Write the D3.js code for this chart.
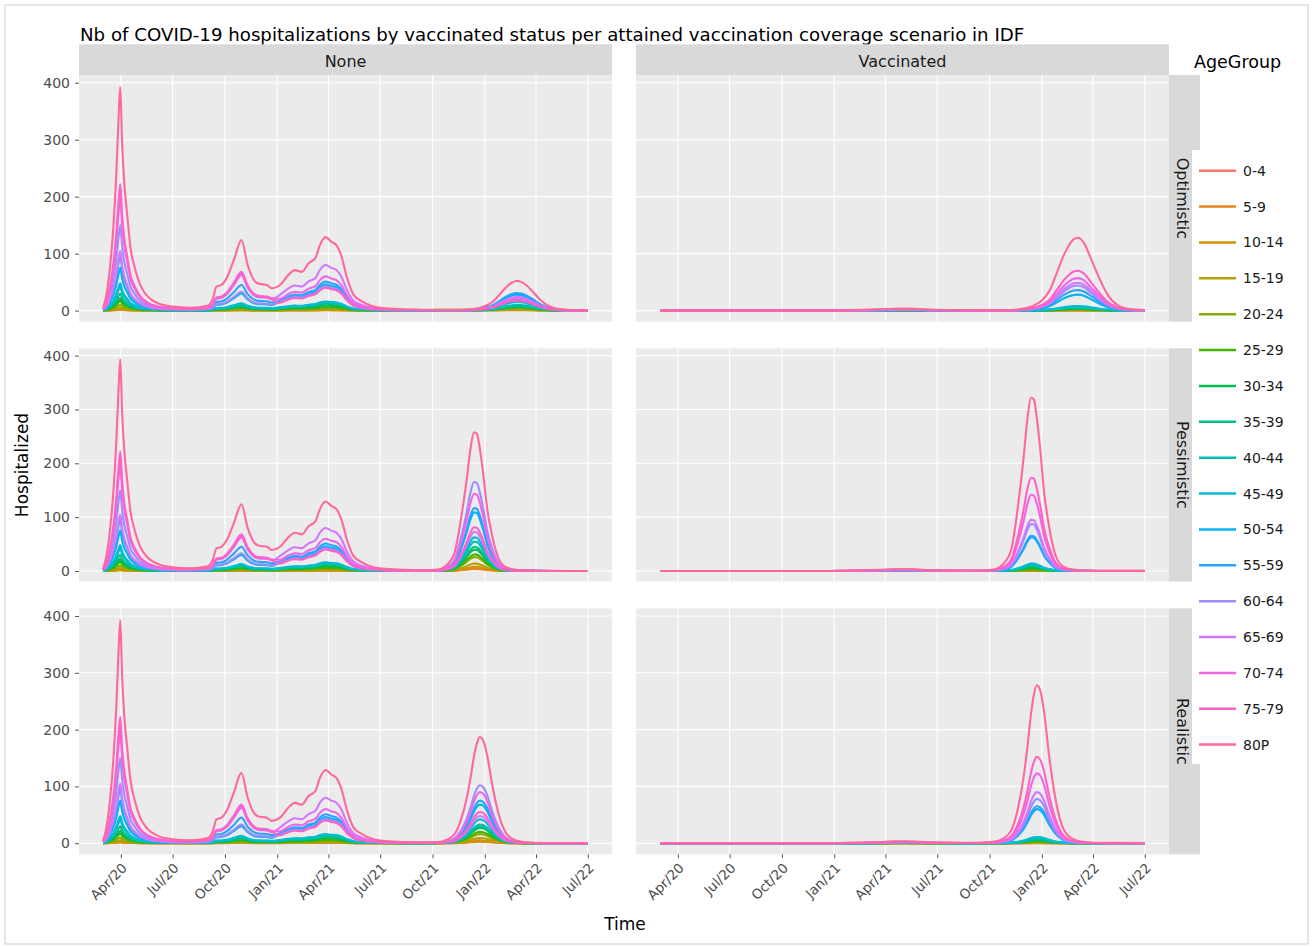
<!DOCTYPE html>
<html><head><meta charset="utf-8">
<script src="https://cdn.jsdelivr.net/npm/d3@7"></script>
<style>body{margin:0;background:#fff}svg{display:block;font-family:"DejaVu Sans",Verdana,sans-serif}</style>
</head><body><svg id="c" width="1313" height="947"></svg>
<script>
// ---------------- DATA ----------------
const ageGroups = ["0-4","5-9","10-14","15-19","20-24","25-29","30-34","35-39","40-44","45-49","50-54","55-59","60-64","65-69","70-74","75-79","80P"];
const statuses = ["None","Vaccinated"];
const scenarios = ["Optimistic","Pessimistic","Realistic"];
const xTickDates = ["2020-04-01","2020-07-01","2020-10-01","2021-01-01","2021-04-01","2021-07-01","2021-10-01","2022-01-01","2022-04-01","2022-07-01"];
const yTicks = [0,100,200,300,400];

// History of unvaccinated hospitalizations (same in all scenarios)
const datesHistory = ["2020-03-01","2020-03-07","2020-03-13","2020-03-19","2020-03-24","2020-03-28","2020-03-31","2020-04-03","2020-04-07","2020-04-12","2020-04-18","2020-04-25","2020-05-05","2020-05-18","2020-06-05","2020-07-01","2020-08-01",
 "2020-09-01","2020-09-10","2020-09-16","2020-09-25","2020-10-04","2020-10-17","2020-10-30","2020-11-10","2020-11-20","2020-11-29","2020-12-14","2020-12-22",
 "2021-01-06","2021-01-20","2021-02-01","2021-02-13","2021-02-25","2021-03-09","2021-03-17","2021-03-27","2021-04-06","2021-04-15","2021-04-24","2021-05-03","2021-05-15","2021-05-30","2021-06-19","2021-07-10","2021-08-15","2021-09-15"];
const noneHistory = [
 [0.1,0.3,0.8,1.5,2.4,3.5,4,3.1,2.3,1.7,1.1,0.8,0.5,0.3,0.1,0.1,0.1, 0.1,0.3,0.5,0.5,0.7,1.1,1.5,1,0.7,0.6,0.5,0.5, 0.5,0.7,0.8,0.8,1,1.1,1.3,1.5,1.4,1.3,1.1,0.7,0.3,0.2,0.1,0,0,0],
 [0,0.1,0.3,0.6,0.9,1.3,1.5,1.1,0.9,0.6,0.4,0.3,0.2,0.1,0,0,0, 0,0.1,0.2,0.2,0.2,0.4,0.5,0.3,0.2,0.2,0.2,0.2, 0.2,0.3,0.3,0.3,0.4,0.4,0.5,0.6,0.6,0.5,0.4,0.3,0.1,0.1,0,0,0,0],
 [0,0.2,0.4,0.8,1.2,1.7,2,1.5,1.1,0.9,0.6,0.4,0.2,0.1,0.1,0,0, 0.1,0.1,0.3,0.3,0.4,0.6,0.8,0.5,0.4,0.3,0.3,0.3, 0.3,0.5,0.6,0.5,0.6,0.7,0.9,1,0.9,0.9,0.7,0.5,0.2,0.1,0.1,0,0,0],
 [0.1,0.4,1,1.9,3,4.3,5,3.8,2.9,2.2,1.4,1,0.6,0.3,0.2,0.1,0.1, 0.1,0.4,0.7,0.7,0.9,1.5,2,1.3,0.9,0.8,0.7,0.6, 0.9,1.2,1.4,1.3,1.6,1.8,2.2,2.5,2.3,2.2,1.8,1.2,0.5,0.3,0.1,0.1,0,0],
 [0.1,0.8,2,3.8,6.1,8.7,10,7.6,5.7,4.3,2.8,2,1.2,0.6,0.3,0.2,0.1, 0.2,0.5,1,1.1,1.4,2.2,3,1.9,1.3,1.1,1.1,0.9, 1.4,1.9,2.2,2.1,2.6,2.9,3.6,4,3.8,3.6,2.9,1.9,0.9,0.5,0.2,0.1,0.1,0],
 [0.2,1.3,3.3,6.5,10.4,14.7,17,13,9.7,7.4,4.8,3.3,2,1.1,0.6,0.3,0.2, 0.4,0.9,1.7,1.8,2.3,3.6,5,3.2,2.2,1.9,1.8,1.6, 2.1,2.9,3.3,3.2,3.9,4.3,5.3,6,5.6,5.3,4.4,2.8,1.3,0.7,0.3,0.2,0.1,0.1],
 [0.3,1.7,4.3,8.4,13.4,19,22,16.8,12.6,9.5,6.2,4.3,2.5,1.4,0.7,0.4,0.3, 0.5,1.2,2.4,2.5,3.2,5.1,7,4.5,3.1,2.7,2.5,2.2, 3.1,4.3,5,4.7,5.8,6.4,8,9,8.4,8,6.6,4.2,2,1.1,0.5,0.3,0.1,0.1],
 [0.4,2.3,5.9,11.4,18.3,26,30,22.9,17.2,13,8.4,5.9,3.5,1.9,1,0.5,0.4, 0.7,1.6,3.1,3.3,4.1,6.5,9,5.8,4,3.4,3.3,2.8, 4.2,5.8,6.6,6.3,7.7,8.6,10.7,12,11.3,10.7,8.8,5.6,2.6,1.5,0.6,0.4,0.2,0.1],
 [0.5,3.2,8.2,16,25.6,36.3,42,32,24.1,18.2,11.8,8.2,4.8,2.7,1.4,0.8,0.5, 0.9,2.1,4.1,4.4,5.5,8.7,12,7.7,5.3,4.5,4.4,3.8, 5.2,7.2,8.3,7.9,9.6,10.7,13.4,15,14.1,13.4,11,7,3.3,1.9,0.8,0.5,0.2,0.2],
 [0.6,3.6,9.4,18.2,29.3,41.5,48,36.6,27.5,20.8,13.4,9.4,5.5,3.1,1.6,0.9,0.6, 0.9,2.3,4.4,4.7,6,9.4,13,8.4,5.8,4.9,4.7,4.1, 5.6,7.7,8.8,8.4,10.3,11.4,14.3,16,15,14.3,11.8,7.4,3.5,2,0.9,0.5,0.3,0.2],
 [1,5.7,14.7,28.5,45.8,64.9,75,57.2,43,32.5,21,14.7,8.6,4.8,2.5,1.4,1, 2.2,5.3,10.2,10.9,13.8,21.8,30,19.4,13.3,11.4,10.9,9.5, 16.1,22.1,25.3,24.2,29.6,32.8,41,46,43.1,41,33.9,21.4,10,5.7,2.5,1.4,0.7,0.6],
 [1.3,7.4,19.2,37.2,59.8,84.8,98,74.8,56.2,42.4,27.4,19.2,11.3,6.3,3.2,1.8,1.3, 3.3,8,15.3,16.3,20.7,32.7,45,29,20,17.1,16.3,14.2, 17.8,24.5,28.1,26.9,32.8,36.4,45.4,51,47.8,45.4,37.5,23.7,11.1,6.3,2.8,1.6,0.8,0.6],
 [2,11.4,29.4,57,91.5,129.8,150,114.5,86,65,42,29.4,17.3,9.6,5,2.7,2, 2.4,5.8,11.2,12,15.2,24,33,21.3,14.7,12.5,12,10.4, 15,20.6,23.7,22.7,27.6,30.7,38.3,43,40.3,38.3,31.6,20,9.3,5.3,2.3,1.3,0.7,0.5],
 [1.4,8,20.6,39.9,64,90.8,105,80.1,60.2,45.5,29.4,20.6,12.1,6.7,3.5,1.9,1.4, 4.5,11,21,22.5,28.5,45,62,40,27.5,23.5,22.5,19.5, 27.9,38.4,44,42.2,51.4,57,71.3,80,75,71.3,58.9,37.2,17.4,9.9,4.3,2.5,1.3,1],
 [2.6,15.2,39.2,76,122,173,200,152.6,114.6,86.6,56,39.2,23,12.8,6.6,3.6,2.6, 5,12,23,24.7,31.3,49.4,68,43.9,30.2,25.8,24.7,21.4, 20.9,28.8,33,31.6,38.6,42.8,53.5,60,56.3,53.5,44.2,27.9,13,7.4,3.2,1.9,1,0.7],
 [2.9,16.9,43.5,84.4,135.4,192,222,169.4,127.2,96.1,62.2,43.5,25.5,14.2,7.3,4,2.9, 4.7,11.5,22,23.6,29.9,47.2,65,41.9,28.9,24.6,23.6,20.5, 14,19.2,22,21.1,25.7,28.5,35.6,40,37.5,35.6,29.4,18.6,8.7,5,2.2,1.2,0.6,0.5],
 [5,30,77,150,240,340,393,300,225,170,110,77,45,25,13,7,5, 9,22,42,45,57,90,124,80,55,47,45,39, 45,62,71,68,83,92,115,129,121,115,95,60,28,16,7,4,2,1.5]
];

// History of vaccinated hospitalizations (same in all scenarios)
const datesVaccHistory = ["2020-03-01","2020-12-15","2021-01-20","2021-02-20","2021-03-20","2021-04-15","2021-05-05","2021-05-25","2021-06-15","2021-07-15","2021-08-15","2021-09-15"];
const vaccHistory = [
 [0,0,0,0,0,0,0,0,0,0,0,0],
 [0,0,0,0,0,0,0,0,0,0,0,0],
 [0,0,0,0,0,0.1,0.1,0.1,0,0,0,0],
 [0,0,0,0,0.1,0.1,0.2,0.1,0.1,0,0,0],
 [0,0,0,0,0.1,0.2,0.2,0.2,0.1,0.1,0,0],
 [0,0,0,0.1,0.1,0.2,0.3,0.2,0.1,0.1,0.1,0.1],
 [0,0,0,0.1,0.2,0.3,0.4,0.3,0.2,0.1,0.1,0.1],
 [0,0,0,0.1,0.2,0.4,0.5,0.4,0.2,0.1,0.1,0.1],
 [0,0,0,0.1,0.3,0.5,0.6,0.5,0.3,0.2,0.1,0.1],
 [0,0,0,0.1,0.3,0.5,0.7,0.5,0.3,0.2,0.1,0.1],
 [0,0,0.1,0.2,0.5,0.9,1.1,0.9,0.5,0.3,0.2,0.3],
 [0,0,0.1,0.3,0.6,1.1,1.3,1.1,0.6,0.3,0.2,0.3],
 [0,0,0.1,0.4,0.8,1.3,1.6,1.3,0.8,0.4,0.3,0.4],
 [0,0,0.2,0.5,1,1.6,1.9,1.5,0.9,0.5,0.3,0.4],
 [0,0,0.3,0.7,1.3,2,2.2,1.8,1.1,0.6,0.4,0.5],
 [0,0,0.4,0.9,1.6,2.4,2.6,2.1,1.3,0.7,0.5,0.6],
 [0,0,0.6,1.3,2.2,3.3,3.6,3,1.8,1,0.8,0.9]
];

// Third wave, Pessimistic & Realistic scenarios (peak around Christmas 2021)
const datesWaveDec = ["2021-10-10","2021-10-25","2021-11-08","2021-11-20","2021-11-30","2021-12-07","2021-12-13","2021-12-18","2021-12-23","2021-12-29","2022-01-05","2022-01-14","2022-01-25","2022-02-08","2022-02-25","2022-03-20","2022-04-20","2022-07-01"];
// Third wave, Optimistic scenario (peak around March 2022)
const datesWaveMar = ["2021-10-10","2021-11-01","2021-11-25","2021-12-15","2022-01-01","2022-01-15","2022-01-28","2022-02-08","2022-02-18","2022-02-26","2022-03-06","2022-03-16","2022-03-28","2022-04-10","2022-04-25","2022-05-15","2022-06-05","2022-07-01"];

const noneOptimistic = [
 [0.3,0.3,0.3,0.3,0.3,0.4,0.7,1,1.1,1.2,1.2,1,0.7,0.4,0.2,0,0,0],
 [0.5,0.5,0.5,0.5,0.5,0.5,0.6,0.7,0.8,0.8,0.8,0.7,0.5,0.3,0.1,0,0,0],
 [1.5,1.5,1.5,1.5,1.5,1.5,1.5,1.5,1.5,1.5,1.5,1.3,0.9,0.5,0.2,0.1,0,0],
 [1.5,1.5,1.5,1.5,1.5,1.5,1.7,2,2.4,2.5,2.4,2.1,1.5,0.8,0.4,0.1,0,0],
 [1,1,1,1,1.2,1.6,2.5,3.2,3.8,4,3.9,3.4,2.4,1.3,0.6,0.2,0,0],
 [0.3,0.3,0.3,0.3,0.8,1.5,2.9,4,4.8,5,4.9,4.2,3,1.7,0.7,0.2,0.1,0],
 [0.3,0.3,0.3,0.4,1,2,3.7,5.2,6.2,6.5,6.3,5.5,3.9,2.1,0.9,0.3,0.1,0],
 [0.3,0.3,0.3,0.5,1.2,2.4,4.6,6.4,7.6,8,7.8,6.7,4.8,2.6,1.1,0.3,0.1,0],
 [0.3,0.3,0.3,0.6,1.5,3,5.7,8,9.5,10,9.7,8.4,6,3.3,1.4,0.4,0.1,0],
 [0.3,0.3,0.3,0.9,2.3,4.5,8.6,12,14.3,15,14.6,12.6,9,5,2.1,0.6,0.2,0.1],
 [0.5,0.5,0.6,1.7,4.2,8.4,16,22.4,26.6,28,27.2,23.5,16.8,9.2,3.9,1.1,0.3,0.1],
 [0.5,0.5,0.6,1.9,4.7,9.3,17.7,24.8,29.5,31,30.1,26,18.6,10.2,4.3,1.2,0.4,0.2],
 [0.5,0.5,0.5,1.3,3.3,6.6,12.5,17.6,20.9,22,21.3,18.5,13.2,7.3,3.1,0.9,0.3,0.1],
 [0.5,0.5,0.5,1.4,3.6,7.2,13.7,19.2,22.8,24,23.3,20.2,14.4,7.9,3.4,1,0.3,0.1],
 [0.5,0.5,0.5,1.2,3,6,11.4,16,19,20,19.4,16.8,12,6.6,2.8,0.8,0.2,0.1],
 [0.5,0.5,0.5,1.1,2.7,5.4,10.3,14.4,17.1,18,17.5,15.1,10.8,5.9,2.5,0.7,0.2,0.1],
 [1,1,1.5,3.1,7.8,15.6,29.6,41.6,49.4,52,50.4,43.7,31.2,17.2,7.3,2.1,0.6,0.3]
];
const vaccOptimistic = [
 [0,0,0,0,0,0.1,0.1,0.2,0.2,0.2,0.2,0.2,0.1,0.1,0,0,0,0],
 [0,0,0,0,0,0.1,0.1,0.2,0.2,0.2,0.2,0.2,0.1,0.1,0,0,0,0],
 [0,0,0,0,0.1,0.1,0.3,0.4,0.5,0.5,0.5,0.5,0.4,0.2,0.1,0,0,0],
 [0,0,0,0.1,0.1,0.3,0.5,0.8,0.9,1,1,0.9,0.7,0.5,0.2,0.1,0,0],
 [0,0,0,0.1,0.2,0.4,0.8,1.1,1.4,1.5,1.5,1.4,1.1,0.7,0.4,0.1,0,0],
 [0,0,0.1,0.2,0.4,0.7,1.3,1.9,2.3,2.5,2.5,2.3,1.8,1.2,0.6,0.2,0.1,0],
 [0,0,0.1,0.2,0.4,0.8,1.6,2.3,2.7,2.9,3,2.8,2.2,1.4,0.7,0.2,0.1,0],
 [0,0,0.1,0.3,0.7,1.4,2.7,3.8,4.5,4.9,5,4.7,3.6,2.4,1.2,0.4,0.1,0],
 [0,0,0.1,0.4,0.8,1.7,3.2,4.5,5.4,5.9,6,5.6,4.3,2.9,1.4,0.4,0.1,0],
 [0,0,0.2,0.5,1.1,2.2,4.2,6,7.2,7.8,8,7.4,5.8,3.8,1.9,0.6,0.2,0.1],
 [0.1,0.1,0.6,1.7,3.9,7.8,14.8,21,25.2,27.4,28,26,20.2,13.4,6.7,2,0.6,0.2],
 [0.1,0.2,0.7,2.2,5,10.1,19.1,27,32.4,35.3,36,33.5,25.9,17.3,8.6,2.5,0.7,0.3],
 [0.2,0.2,0.9,2.6,6.2,12.3,23.3,33,39.6,43.1,44,40.9,31.7,21.1,10.6,3.1,0.9,0.4],
 [0.2,0.2,1,2.9,6.9,13.7,26,36.8,44.1,48,49,45.6,35.3,23.5,11.8,3.4,1,0.4],
 [0.2,0.3,1.1,3.4,8,16,30.2,42.8,51.3,55.9,57,53,41,27.4,13.7,4,1.1,0.5],
 [0.3,0.4,1.4,4.2,9.8,19.6,37.1,52.5,63,68.6,70,65.1,50.4,33.6,16.8,4.9,1.4,0.6],
 [0.8,0.8,2.6,7.7,17.9,35.8,67.8,96,115.2,125.4,128,119,92.2,61.4,30.7,9,2.6,1]
];
const nonePessimistic = [
 [0.1,0.2,0.7,2.2,3.9,5.3,5.9,5.9,5.3,4.2,2.7,1.5,0.5,0.2,0,0,0,0],
 [0,0.2,0.5,1.5,2.6,3.5,4,3.9,3.5,2.8,1.8,1,0.4,0.1,0,0,0,0],
 [0.1,0.3,1,3,5.2,7,7.9,7.8,7,5.6,3.6,2,0.7,0.2,0.1,0,0,0],
 [0.1,0.6,1.7,5.2,9.1,12.3,13.9,13.7,12.3,9.8,6.3,3.5,1.3,0.4,0.1,0,0,0],
 [0.3,1,3.1,9.6,16.9,22.9,25.7,25.5,22.9,18.2,11.7,6.5,2.3,0.7,0.2,0.1,0,0],
 [0.3,1.2,3.7,11.5,20.2,27.3,30.7,30.4,27.3,21.7,14,7.8,2.8,0.8,0.2,0.1,0,0],
 [0.4,1.6,4.8,14.8,26,35.2,39.6,39.2,35.2,28,18,10,3.6,1,0.3,0.1,0,0],
 [0.5,1.8,5.4,16.7,29.3,39.6,44.6,44.1,39.6,31.5,20.3,11.3,4.1,1.1,0.4,0.1,0,0],
 [0.6,2.2,6.6,20.4,35.8,48.4,54.5,53.9,48.4,38.5,24.8,13.8,5,1.4,0.4,0.2,0,0],
 [0.6,2.5,7.6,23.3,41,55.4,62.4,61.7,55.4,44.1,28.4,15.8,5.7,1.6,0.5,0.2,0.1,0],
 [1.1,4.4,13.2,40.7,71.5,96.8,108.9,107.8,96.8,77,49.5,27.5,9.9,2.8,0.9,0.3,0.1,0],
 [1.2,4.7,14.2,43.7,76.7,103.8,116.8,115.6,103.8,82.6,53.1,29.5,10.6,3,0.9,0.4,0.1,0],
 [1.7,6.7,20,61.8,108.6,147,165.3,163.7,147,116.9,75.2,41.8,15,4.2,1.3,0.5,0.2,0],
 [0.7,2.9,8.8,27,47.5,64.2,72.3,71.5,64.2,51.1,32.9,18.3,6.6,1.8,0.6,0.2,0.1,0],
 [1.5,5.8,17.4,53.7,94.3,127.6,143.6,142.1,127.6,101.5,65.3,36.3,13.1,3.6,1.2,0.4,0.1,0],
 [0.8,3.3,9.8,30.3,53.3,72.2,81.2,80.4,72.2,57.4,36.9,20.5,7.4,2.1,0.7,0.2,0.1,0],
 [2.6,10.4,31.2,96.2,169,228.8,257.4,254.8,228.8,182,117,65,23.4,6.5,2.1,0.8,0.3,0]
];
const vaccPessimistic = [
 [0,0,0,0.1,0.1,0.2,0.2,0.2,0.2,0.1,0.1,0.1,0,0,0,0,0,0],
 [0,0,0,0.1,0.2,0.3,0.3,0.3,0.3,0.2,0.1,0.1,0,0,0,0,0,0],
 [0,0,0.1,0.3,0.5,0.7,0.8,0.8,0.7,0.6,0.4,0.2,0.1,0,0,0,0,0],
 [0,0.1,0.2,0.6,1,1.3,1.5,1.5,1.3,1.1,0.7,0.4,0.1,0,0,0,0,0],
 [0,0.1,0.3,0.9,1.6,2.2,2.5,2.5,2.2,1.8,1.1,0.6,0.2,0.1,0,0,0,0],
 [0,0.2,0.5,1.5,2.6,3.5,4,3.9,3.5,2.8,1.8,1,0.4,0.1,0,0,0,0],
 [0.1,0.2,0.7,2.2,3.9,5.3,5.9,5.9,5.3,4.2,2.7,1.5,0.5,0.2,0,0,0,0],
 [0.1,0.4,1.1,3.3,5.9,7.9,8.9,8.8,7.9,6.3,4.1,2.3,0.8,0.2,0.1,0,0,0],
 [0.1,0.5,1.4,4.4,7.8,10.6,11.9,11.8,10.6,8.4,5.4,3,1.1,0.3,0.1,0,0,0],
 [0.1,0.6,1.7,5.2,9.1,12.3,13.9,13.7,12.3,9.8,6.3,3.5,1.3,0.4,0.1,0,0,0],
 [0.6,2.5,7.6,23.3,41,55.4,62.4,61.7,55.4,44.1,28.4,15.8,5.7,1.6,0.5,0.2,0.1,0],
 [0.7,2.6,7.9,24.4,42.9,58.1,65.3,64.7,58.1,46.2,29.7,16.5,5.9,1.7,0.5,0.2,0.1,0.1],
 [0.9,3.5,10.6,32.6,57.2,77.4,87.1,86.2,77.4,61.6,39.6,22,7.9,2.2,0.7,0.3,0.1,0.1],
 [1,3.8,11.5,35.5,62.4,84.5,95,94.1,84.5,67.2,43.2,24,8.6,2.4,0.8,0.3,0.1,0.1],
 [1.4,5.7,17.2,52.9,93,125.8,141.6,140.1,125.8,100.1,64.4,35.8,12.9,3.6,1.1,0.4,0.1,0.1],
 [1.8,7,21,64.8,113.8,154,173.3,171.5,154,122.5,78.8,43.8,15.8,4.4,1.4,0.5,0.2,0.2],
 [3.3,13,39,120.3,211.3,286,321.8,318.5,286,227.5,146.3,81.3,29.3,8.1,2.6,1,0.5,0.5]
];
const noneRealistic = [
 [0,0.1,0.3,0.9,1.7,2.5,3.3,3.8,4,3.9,3.3,2.2,1.1,0.4,0.1,0,0,0],
 [0,0.1,0.2,0.6,1.1,1.6,2.1,2.4,2.5,2.4,2.1,1.4,0.7,0.2,0.1,0,0,0],
 [0.1,0.2,0.4,1.1,2.1,3.1,4.1,4.7,5,4.9,4.2,2.8,1.4,0.5,0.1,0,0,0],
 [0.1,0.3,0.7,2,3.8,5.6,7.4,8.5,9,8.7,7.5,5,2.5,0.8,0.2,0.1,0,0],
 [0.2,0.5,1.3,3.5,6.7,9.9,13.1,15,16,15.5,13.3,8.8,4.5,1.4,0.4,0.1,0,0],
 [0.2,0.6,1.6,4.4,8.4,12.4,16.4,18.8,20,19.4,16.6,11,5.6,1.8,0.5,0.1,0,0],
 [0.3,0.8,2.2,5.9,11.3,16.7,22.1,25.4,27,26.2,22.4,14.9,7.6,2.4,0.7,0.2,0.1,0],
 [0.3,0.9,2.4,6.6,12.6,18.6,24.6,28.2,30,29.1,24.9,16.5,8.4,2.7,0.8,0.2,0.1,0],
 [0.3,1,2.6,7.3,13.9,20.5,27.1,31,33,32,27.4,18.2,9.2,3,0.8,0.2,0.1,0],
 [0.4,1.3,3.4,9.2,17.6,26,34.4,39.5,42,40.7,34.9,23.1,11.8,3.8,1.1,0.3,0.1,0],
 [0.7,2,5.4,15,28.6,42.2,55.8,63.9,68,66,56.4,37.4,19,6.1,1.7,0.4,0.1,0],
 [0.8,2.3,6,16.5,31.5,46.5,61.5,70.5,75,72.8,62.3,41.3,21,6.8,1.9,0.5,0.2,0],
 [1,3.1,8.2,22.4,42.8,63.2,83.6,95.9,102,98.9,84.7,56.1,28.6,9.2,2.6,0.6,0.2,0],
 [0.5,1.4,3.8,10.6,20.2,29.8,39.4,45.1,48,46.6,39.8,26.4,13.4,4.3,1.2,0.3,0.1,0],
 [0.9,2.7,7.2,19.8,37.8,55.8,73.8,84.6,90,87.3,74.7,49.5,25.2,8.1,2.3,0.5,0.2,0],
 [0.6,1.7,4.4,12.1,23.1,34.1,45.1,51.7,55,53.4,45.7,30.3,15.4,5,1.4,0.3,0.1,0],
 [1.9,5.6,15,41.1,78.5,115.9,153.3,175.8,187,181.4,155.2,102.9,52.4,16.8,4.7,1.1,0.4,0]
];
const vaccRealistic = [
 [0,0,0,0,0.1,0.1,0.2,0.2,0.2,0.2,0.2,0.1,0.1,0,0,0,0,0],
 [0,0,0,0.1,0.1,0.2,0.2,0.3,0.3,0.3,0.2,0.2,0.1,0,0,0,0,0],
 [0,0,0,0.1,0.3,0.4,0.5,0.6,0.6,0.6,0.5,0.3,0.2,0.1,0,0,0,0],
 [0,0,0.1,0.3,0.5,0.7,1,1.1,1.2,1.2,1,0.7,0.3,0.1,0,0,0,0],
 [0,0.1,0.2,0.4,0.8,1.2,1.6,1.9,2,1.9,1.7,1.1,0.6,0.2,0,0,0,0],
 [0,0.1,0.3,0.8,1.5,2.2,2.9,3.3,3.5,3.4,2.9,1.9,1,0.3,0.1,0,0,0],
 [0.1,0.2,0.4,1.1,2.1,3.1,4.1,4.7,5,4.9,4.2,2.8,1.4,0.5,0.1,0,0,0],
 [0.1,0.2,0.6,1.5,2.9,4.3,5.7,6.6,7,6.8,5.8,3.9,2,0.6,0.2,0,0,0],
 [0.1,0.3,0.7,2,3.8,5.6,7.4,8.5,9,8.7,7.5,5,2.5,0.8,0.2,0.1,0,0],
 [0.1,0.3,0.9,2.4,4.6,6.8,9,10.3,11,10.7,9.1,6.1,3.1,1,0.3,0.1,0,0],
 [0.6,1.8,4.8,13.2,25.2,37.2,49.2,56.4,60,58.2,49.8,33,16.8,5.4,1.5,0.4,0.1,0],
 [0.7,2,5.2,14.3,27.3,40.3,53.3,61.1,65,63.1,54,35.8,18.2,5.9,1.6,0.4,0.1,0.1],
 [0.8,2.3,6.2,17.2,32.8,48.4,64,73.3,78,75.7,64.7,42.9,21.8,7,2,0.5,0.2,0.1],
 [0.9,2.7,7.2,19.8,37.8,55.8,73.8,84.6,90,87.3,74.7,49.5,25.2,8.1,2.3,0.5,0.2,0.1],
 [1.2,3.7,9.8,27.1,51.7,76.3,100.9,115.6,123,119.3,102.1,67.7,34.4,11.1,3.1,0.7,0.2,0.1],
 [1.5,4.6,12.2,33.4,63.8,94.2,124.6,142.9,152,147.4,126.2,83.6,42.6,13.7,3.8,0.9,0.3,0.2],
 [2.8,8.3,22.2,61.2,116.8,172.4,228,261.3,278,269.7,230.7,152.9,77.8,25,7,1.7,0.6,0.5]
];

// ---------------- CHART ----------------
const parse = d3.utcParse("%Y-%m-%d");
const waves = {
  None:       {Optimistic:[datesWaveMar,noneOptimistic], Pessimistic:[datesWaveDec,nonePessimistic], Realistic:[datesWaveDec,noneRealistic]},
  Vaccinated: {Optimistic:[datesWaveMar,vaccOptimistic], Pessimistic:[datesWaveDec,vaccPessimistic], Realistic:[datesWaveDec,vaccRealistic]}
};
const history = {None:[datesHistory,noneHistory], Vaccinated:[datesVaccHistory,vaccHistory]};

function seriesFor(status, scenario, gi){
  const [hd, hv] = history[status];
  const [wd, wv] = waves[status][scenario];
  const out = [];
  const n1 = Math.min(hd.length, hv[gi].length);
  for (let i=0;i<n1;i++) out.push({t:parse(hd[i]), v:hv[gi][i]});
  const n2 = Math.min(wd.length, wv[gi].length);
  for (let i=0;i<n2;i++) out.push({t:parse(wd[i]), v:wv[gi][i]});
  return out;
}

// ggplot2 default hue palette (hcl, l=65, c=100)
function hcl2hex(h, c, l){
  const hr=h*Math.PI/180, U=c*Math.cos(hr), V=c*Math.sin(hr);
  const XN=95.047, YN=100, ZN=108.883;
  const Y = l>7.999592 ? YN*Math.pow((l+16)/116,3) : YN*l/903.3;
  const den = XN+15*YN+3*ZN, un=4*XN/den, vn=9*YN/den;
  const u=U/(13*l)+un, v=V/(13*l)+vn;
  const X=9*Y*u/(4*v), Z=-X/3-5*Y+3*Y/v;
  const x=X/100,y=Y/100,z=Z/100;
  const lin=[3.240479*x-1.537150*y-0.498535*z, -0.969256*x+1.875992*y+0.041556*z, 0.055648*x-0.204043*y+1.057311*z];
  const g=lin.map(q=>{q=q<=0.0031308?12.92*q:1.055*Math.pow(q,1/2.4)-0.055; return Math.round(Math.max(0,Math.min(1,q))*255);});
  return d3.rgb(g[0],g[1],g[2]).formatHex();
}
const palette = ageGroups.map((g,i)=>hcl2hex(15+i*360/ageGroups.length,100,65));
const color = d3.scaleOrdinal().domain(ageGroups).range(palette);

const svg = d3.select("#c");
svg.append("rect").attr("x",5).attr("y",5).attr("width",1303).attr("height",939)
   .attr("fill","none").attr("stroke","#dedede").attr("stroke-width",1.5);

const cols = [[79,612],[636,1169]];
const rows = [[75,321.7],[348.3,581.5],[608.3,854.3]];
const t0 = parse(datesHistory[0]), t1 = parse(datesWaveDec[datesWaveDec.length-1]);
const padT = (t1-t0)*0.05;
const yDomain = [-19.5, 413.6];

svg.append("text").attr("x",80).attr("y",40.5).attr("font-size",18.2).attr("fill","#000")
   .text("Nb of COVID-19 hospitalizations by vaccinated status per attained vaccination coverage scenario in IDF");

statuses.forEach((status, ci)=>{
  const [x0,x1] = cols[ci];
  const x = d3.scaleUtc().domain([new Date(+t0-padT), new Date(+t1+padT)]).range([x0,x1]);
  svg.append("rect").attr("x",x0).attr("y",44.3).attr("width",x1-x0).attr("height",75-44.3).attr("fill","#d9d9d9");
  svg.append("text").attr("x",(x0+x1)/2).attr("y",67.3).attr("text-anchor","middle").attr("font-size",16).attr("fill","#1a1a1a").text(status);

  scenarios.forEach((scen, ri)=>{
    const [y0,y1] = rows[ri];
    const y = d3.scaleLinear().domain(yDomain).range([y1,y0]);
    const g = svg.append("g");
    g.append("rect").attr("x",x0).attr("y",y0).attr("width",x1-x0).attr("height",y1-y0).attr("fill","#ebebeb");
    g.selectAll(".gx").data(xTickDates).join("line")
      .attr("x1",d=>x(parse(d))).attr("x2",d=>x(parse(d))).attr("y1",y0).attr("y2",y1)
      .attr("stroke","#fff").attr("stroke-width",1.1);
    g.selectAll(".gy").data(yTicks).join("line")
      .attr("x1",x0).attr("x2",x1).attr("y1",d=>y(d)).attr("y2",d=>y(d))
      .attr("stroke","#fff").attr("stroke-width",1.1);
    const line = d3.line().x(d=>x(d.t)).y(d=>y(d.v)).curve(d3.curveMonotoneX);
    ageGroups.forEach((ag, gi)=>{
      g.append("path").datum(seriesFor(status, scen, gi))
        .attr("d", line).attr("fill","none").attr("stroke", color(ag))
        .attr("stroke-width",2.1).attr("stroke-linejoin","round");
    });
    if (ci===0){
      const ax = svg.append("g").attr("transform",`translate(${x0},0)`)
        .call(d3.axisLeft(y).tickValues(yTicks).tickSize(4).tickPadding(5).tickFormat(d3.format("d")));
      ax.select(".domain").remove();
      ax.selectAll("line").attr("stroke","#555");
      ax.selectAll("text").attr("font-size",14).attr("fill","#4d4d4d").attr("font-family",'"DejaVu Sans",Verdana,sans-serif');
    }
    if (ri===scenarios.length-1){
      const ax = svg.append("g").attr("transform",`translate(0,${y1})`)
        .call(d3.axisBottom(x).tickValues(xTickDates.map(parse)).tickSize(4).tickFormat(d3.utcFormat("%b/%y")));
      ax.select(".domain").remove();
      ax.selectAll("line").attr("stroke","#555");
      ax.selectAll("text").attr("font-size",13.5).attr("fill","#4d4d4d").attr("font-family",'"DejaVu Sans",Verdana,sans-serif')
        .attr("text-anchor","end").attr("dy",null).attr("y",null)
        .attr("transform","translate(3,11) rotate(-45)").attr("dominant-baseline","central");
    }
    if (ci===statuses.length-1){
      svg.append("rect").attr("x",x1).attr("y",y0).attr("width",31).attr("height",y1-y0).attr("fill","#d9d9d9");
      svg.append("text").attr("transform",`translate(1177,${(y0+y1)/2}) rotate(90)`)
        .attr("text-anchor","middle").attr("font-size",16).attr("fill","#1a1a1a").text(scen);
    }
  });
});

svg.append("text").attr("x",625).attr("y",930).attr("text-anchor","middle").attr("font-size",17).attr("fill","#000").text("Time");
svg.append("text").attr("transform","translate(28,465) rotate(-90)").attr("text-anchor","middle").attr("font-size",17).attr("fill","#000").text("Hospitalized");

svg.append("rect").attr("x",1192).attr("y",150).attr("width",112).attr("height",614).attr("fill","#fff");
svg.append("text").attr("x",1194).attr("y",68).attr("font-size",17.5).attr("fill","#000").text("AgeGroup");
const leg = svg.append("g");
ageGroups.forEach((ag,i)=>{
  const yy = 170.7 + i*35.87;
  leg.append("line").attr("x1",1199).attr("x2",1236).attr("y1",yy).attr("y2",yy).attr("stroke",color(ag)).attr("stroke-width",2.5);
  leg.append("text").attr("x",1243).attr("y",yy).attr("dy","0.36em").attr("font-size",14).attr("fill","#1a1a1a").text(ag);
});
</script></body></html>
